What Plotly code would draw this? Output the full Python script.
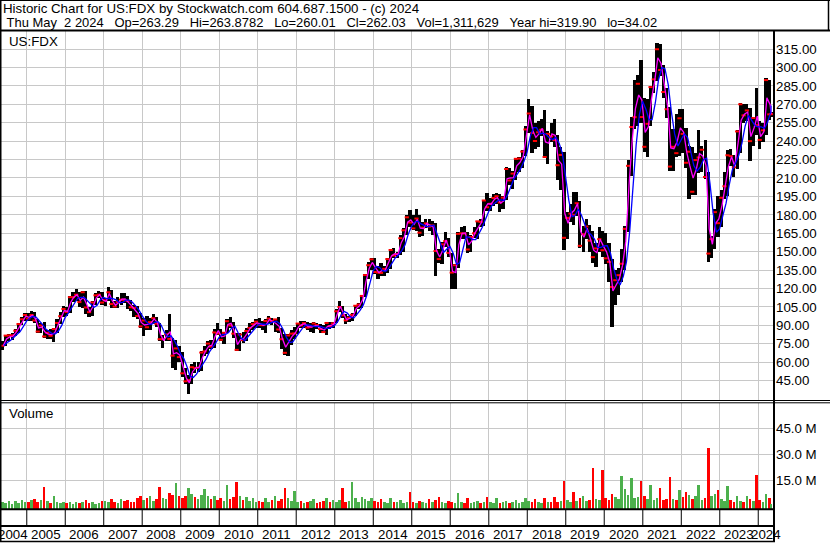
import numpy as np
import pandas as pd
import plotly.graph_objects as go

# ---------------- data (monthly, May 2004 .. May 2024) ----------------
MONTH_START = "2004-05-01"
LAST_DATE = "2024-05-02"

HIGH = [
    77, 82, 83, 84, 87, 92, 97, 100,
    100, 102, 101, 95, 92, 93, 86, 87, 88, 95, 101, 106,
    105, 114, 117, 120, 117, 118, 118, 105, 110, 116, 118, 117,
    112, 121, 119, 110, 113, 116, 116, 114, 111, 107, 106, 100,
    96, 98, 96, 99, 97, 92, 82, 86, 99, 80, 78, 73,
    68, 55, 50, 59, 60, 60, 69, 73, 77, 78, 87, 92,
    87, 85, 95, 97, 93, 84, 84, 85, 88, 92, 93, 95,
    96, 94, 95, 98, 96, 95, 97, 88, 83, 83, 86, 89,
    92, 94, 94, 93, 92, 93, 92, 91, 90, 93, 93, 93,
    103, 110, 106, 99, 98, 100, 107, 108, 115, 132, 142, 145,
    145, 138, 141, 138, 145, 152, 153, 150, 164, 169, 180, 184,
    180, 185, 180, 174, 177, 177, 175, 173, 152, 158, 166, 161,
    149, 140, 166, 170, 171, 166, 164, 170, 175, 177, 192, 198,
    194, 197, 198, 197, 195, 219, 218, 216, 226, 227, 233, 252,
    274.7, 269, 255, 256, 258, 265, 248, 255, 258, 245, 235, 231,
    182, 189, 199, 199, 191, 171, 177, 172, 167, 157, 170, 167,
    165, 157, 144, 135, 137, 152, 171, 225, 260, 290, 294, 305.7,
    275, 274, 285, 296, 319.9, 319, 302, 283, 268, 250, 262, 266,
    266, 251, 236, 235, 230, 249, 236, 241, 215, 163, 185, 195,
    200, 215, 233, 234, 229, 249, 271, 270, 270, 267, 258, 283,
    256, 255, 291, 290, 264,
]
LOW = [
    70, 73, 77, 78, 81, 84, 90, 94,
    94, 94, 92, 84, 84, 80, 79, 79, 76.8, 84, 91, 97,
    98, 100, 109, 110, 105, 104, 99, 97, 98, 107, 112, 107,
    106, 110, 104, 104, 104, 107, 108, 103, 102, 97, 95, 88,
    81, 86, 86, 91, 89, 77, 72, 77, 77, 55, 54, 60,
    48, 42, 34.02, 42, 51, 52, 53, 65, 67, 71, 72, 82,
    77, 75, 84, 88, 80, 69, 69, 76, 77, 84, 86, 88,
    88, 86, 84, 91, 90, 85, 84, 71, 66, 65, 74, 79,
    83, 88, 88, 86, 85, 84, 87, 84, 84, 82, 87, 88,
    92, 101, 96, 91, 93, 94, 98, 103, 104, 113, 128, 135,
    132, 128, 130, 130, 133, 136, 145, 145, 147, 150, 164, 170,
    168, 167, 162, 163, 169, 167, 164, 130, 141, 140, 154, 146,
    120, 120, 137, 160, 160, 149, 150, 161, 160, 170, 171, 183,
    183, 187, 189, 182, 185, 192, 204, 201, 208, 215, 218, 228,
    247, 230, 234, 235, 244, 226, 221, 239, 235, 208, 200, 151,
    160, 174, 172, 179, 153, 150, 160, 150, 141, 137.8, 150, 146,
    140, 125, 88.7, 107, 115, 125, 135, 166, 212, 250, 252, 255,
    231, 227, 252, 279, 289, 293, 275, 259, 216, 216, 227, 228,
    230, 218, 192.8, 196, 196, 214, 215, 209, 141.9, 145, 152, 162,
    170, 193, 195, 220, 211, 217, 230, 255, 256, 224, 236, 245,
    234, 239, 245, 257, 260,
]
CLOSE = [
    73.5, 81.7, 81.9, 82.0, 85.7, 91.1, 95.0, 98.5,
    95.6, 98.5, 94.0, 85.0, 90.0, 81.0, 84.0, 81.5, 87.0, 92.0, 97.5, 103.4,
    101.0, 113.0, 113.0, 115.0, 109.0, 117.0, 104.6, 100.8, 108.7, 114.5, 115.0, 108.6,
    110.4, 117.0, 107.4, 105.4, 109.0, 111.0, 110.7, 110.0, 104.8, 104.3, 97.6, 89.2,
    94.0, 88.5, 92.7, 95.9, 91.4, 78.8, 78.8, 82.7, 79.0, 65.4, 71.3, 64.2,
    51.0, 44.5, 45.5, 56.0, 55.4, 55.6, 67.9, 68.9, 75.2, 72.7, 84.3, 83.4,
    78.3, 84.0, 93.4, 90.0, 83.3, 70.1, 82.6, 78.0, 85.5, 88.0, 91.1, 93.0,
    90.3, 90.2, 93.6, 95.6, 93.6, 94.9, 86.7, 78.8, 67.7, 81.8, 83.3, 83.5,
    91.5, 90.0, 91.9, 88.2, 89.0, 91.6, 90.3, 87.1, 84.6, 92.0, 89.5, 91.7,
    101.5, 105.0, 98.2, 94.1, 96.3, 98.6, 106.0, 107.0, 114.0, 131.0, 139.0, 143.8,
    133.5, 133.0, 132.7, 136.0, 144.0, 151.4, 146.9, 148.0, 161.0, 167.4, 178.0, 173.7,
    169.0, 177.0, 165.5, 169.6, 173.0, 170.4, 171.4, 150.6, 144.0, 156.0, 158.6, 149.0,
    133.0, 139.0, 164.5, 165.0, 164.8, 151.8, 162.0, 165.0, 174.7, 174.3, 191.7, 186.2,
    189.0, 193.7, 195.2, 190.0, 194.0, 217.3, 208.0, 213.6, 225.6, 225.8, 231.5, 249.5,
    262.5, 246.6, 240.1, 247.2, 249.3, 227.1, 245.9, 243.9, 240.8, 220.4, 228.8, 161.3,
    177.5, 181.0, 180.0, 189.5, 154.8, 164.2, 170.5, 159.0, 145.6, 152.7, 160.2, 151.2,
    144.6, 141.7, 121.3, 126.8, 130.9, 140.2, 168.6, 219.9, 251.5, 259.5, 286.7, 259.6,
    235.4, 254.1, 284.0, 290.3, 314.8, 297.9, 280.0, 266.0, 219.3, 235.4, 230.2, 258.6,
    245.9, 222.4, 231.4, 198.8, 224.6, 226.7, 233.0, 210.8, 148.5, 160.2, 182.2, 173.2,
    193.9, 203.3, 228.5, 227.8, 218.7, 247.9, 270.0, 261.0, 265.0, 240.0, 258.8, 253.0,
    241.0, 248.8, 289.7, 261.8, 262.0,
]
VOLUME_M = [
    2.0, 1.5, 2.6, 1.2, 2.8, 1.8, 3.5, 2.2,
    2.0, 3.2, 4.0, 2.5, 3.5, 11.0, 2.8, 1.5, 5.6, 2.0, 1.8, 2.5,
    1.5, 2.0, 1.2, 2.2, 1.8, 2.0, 3.5, 1.5, 2.5, 1.0, 1.6, 2.6,
    3.0, 2.0, 4.0, 2.2, 1.8, 4.2, 3.0, 3.6, 2.4, 2.0, 4.5, 5.5,
    3.5, 4.5, 6.0, 2.8, 4.0, 11.0, 4.5, 3.8, 7.5, 6.5, 13.5, 5.5,
    4.5, 6.0, 10.6, 7.0, 5.0, 4.0, 6.5, 9.7, 5.5, 4.0, 6.0, 3.5,
    4.5, 3.0, 12.1, 4.0, 5.0, 14.1, 6.0, 3.5, 5.0, 3.0, 4.5, 2.5,
    3.0, 2.5, 4.5, 2.0, 3.5, 5.5, 3.0, 4.0, 10.6, 4.5, 3.0, 8.6,
    2.5, 3.0, 1.8, 2.2, 2.8, 4.0, 1.5, 2.0, 3.0, 4.5, 2.0, 3.5,
    2.5, 3.5, 10.6, 2.0, 3.0, 14.0, 4.5, 2.5, 5.0, 4.0, 3.0, 4.5,
    3.0, 2.5, 4.0, 2.0, 1.5, 4.5, 2.0, 2.5, 3.5, 1.8, 2.2, 8.0,
    2.5, 1.5, 3.0, 2.0, 1.8, 4.0, 2.5, 3.5, 4.9, 2.0, 1.5, 3.0,
    2.5, 1.8, 7.2, 2.0, 1.5, 4.3, 1.8, 2.0, 3.0, 1.5, 2.5, 4.9,
    2.0, 1.5, 4.3, 1.8, 2.2, 3.0, 1.5, 2.0, 3.5, 1.8, 2.2, 4.3,
    3.0, 2.5, 4.0, 2.0, 1.8, 4.5, 2.2, 2.0, 5.3, 2.5, 3.0, 14.4,
    3.5, 2.5, 7.8, 3.0, 4.5, 6.0, 3.0, 3.5, 21.8, 4.0, 3.5, 20.8,
    4.5, 3.5, 7.0, 5.0, 4.0, 17.3, 9.7, 6.5, 16.3, 4.5, 5.0, 14.4,
    5.5, 4.0, 12.1, 3.5, 4.5, 10.5, 3.5, 4.0, 16.5, 4.0, 3.5, 9.2,
    5.0, 8.2, 6.5, 4.0, 5.5, 12.1, 3.5, 4.5, 33.7, 6.0, 6.9, 9.0,
    4.0, 3.0, 11.5, 3.5, 2.5, 5.7, 3.0, 2.5, 5.7, 4.0, 3.0, 17.9,
    3.5, 2.5, 6.9, 4.5, 1.3,
]

YEARS = list(range(2004, 2025))
PRICE_TICKS = list(range(30, 331, 15))
PRICE_TICK_TEXT = [f"{v:.2f}" if 45 <= v <= 315 else "" for v in PRICE_TICKS]
VOL_TICKS = [15, 30, 45]
VOL_TICK_TEXT = ["15.0 M", "30.0 M", "45.0 M"]

TITLE_1 = "Historic Chart for US:FDX by Stockwatch.com 604.687.1500 - (c) 2024"
TITLE_2 = " Thu May  2 2024   Op=263.29   Hi=263.8782   Lo=260.01   Cl=262.03   Vol=1,311,629   Year hi=319.90   lo=34.02"
SYMBOL = "US:FDX"
VOL_LABEL = "Volume"

# ---------------- geometry / style ----------------
W, H = 830, 543
ML, MR, MT, MB = 0, 57, 31, 34
PW, PH = W - ML - MR, H - MT - MB
X_RANGE = ["2004-04-22", "2024-05-20"]
PRICE_RANGE = [29.29, 329.65]
VOL_MIN, VOL_MAX = -1.83, 59.68
FONT = "Liberation Sans, Arial, sans-serif"
FS = 13.3
GRID = "#c8c8c8"


def py(y):  # pixel y (from top) -> paper
    return (H - MB - y) / PH


def px(x):  # pixel x -> paper
    return (x - ML) / PW


n = len(CLOSE)
month0 = pd.date_range(MONTH_START, periods=n, freq="MS")
last = pd.Timestamp(LAST_DATE)
bar_x = [min(d + pd.Timedelta(days=14), last) for d in month0]
mag_x = [min(d + pd.Timedelta(days=22), last) for d in month0]
blue_x = [min(d + pd.Timedelta(days=29), last) for d in month0]

hi = np.array(HIGH, float)
lo = np.array(LOW, float)
cl = np.array(CLOSE, float)
tp = pd.Series((hi + lo + cl) / 3.0)
ma_fast = tp.values
ma_slow = tp.rolling(3, min_periods=1).mean().values

prev = np.concatenate([[cl[0]], cl[:-1]])
vol_colors = ["#4cb04c" if c >= p else "#ff0000" for c, p in zip(cl, prev)]

DAY_MS = 86400000

fig = go.Figure()
fig.add_trace(go.Bar(
    x=bar_x, y=hi - lo, base=lo, width=30 * DAY_MS,
    marker=dict(color="black", line=dict(width=0)),
    xaxis="x", yaxis="y", hoverinfo="skip"))
fig.add_trace(go.Scatter(
    x=bar_x, y=cl, mode="markers",
    marker=dict(symbol="line-ew", size=3, line=dict(color="#ff0000", width=2)),
    xaxis="x", yaxis="y", hoverinfo="skip"))
fig.add_trace(go.Scatter(
    x=mag_x, y=ma_fast, mode="lines", line=dict(color="#ff00ff", width=1.3),
    xaxis="x", yaxis="y", hoverinfo="skip"))
fig.add_trace(go.Scatter(
    x=blue_x, y=ma_slow, mode="lines", line=dict(color="#0000ff", width=1.3),
    xaxis="x", yaxis="y", hoverinfo="skip"))
fig.add_trace(go.Bar(
    x=bar_x, y=np.array(VOLUME_M) - VOL_MIN, base=VOL_MIN, width=24 * DAY_MS,
    marker=dict(color=vol_colors, line=dict(width=0)),
    xaxis="x", yaxis="y2", hoverinfo="skip"))

year_starts = [f"{y}-01-01" for y in YEARS[1:]]

shapes = []


def hline(y, x0, x1, w=1.0):
    shapes.append(dict(type="line", xref="paper", yref="paper",
                       x0=px(x0), x1=px(x1), y0=py(y), y1=py(y),
                       line=dict(color="black", width=w), layer="above"))


def vline(x, y0, y1, w=1.0):
    shapes.append(dict(type="line", xref="paper", yref="paper",
                       x0=px(x), x1=px(x), y0=py(y0), y1=py(y1),
                       line=dict(color="black", width=w), layer="above"))


hline(0.5, 0, W, 1)
hline(30.5, 0, W, 2)
hline(400.5, 0, W, 1)
hline(402.8, 0, W, 1)
hline(509.3, 0, 775, 2)
hline(526.0, 0, 775, 2)
hline(541.5, 0, 775, 1.5)
vline(0.75, 0, 542, 1.5)
vline(828.5, 0, 31, 1.5)
vline(774.0, 30, 542, 2)
for ys in year_starts:
    shapes.append(dict(type="line", xref="x", yref="paper", x0=ys, x1=ys,
                       y0=py(510), y1=py(525.5),
                       line=dict(color="black", width=1), layer="above"))

annotations = []


def text(s, x, y, xanchor="left", xref="paper", size=FS):
    annotations.append(dict(text=s.replace(" ", "\u00a0"), x=x, y=py(y),
                            xref=xref, yref="paper", xanchor=xanchor,
                            yanchor="middle", showarrow=False,
                            font=dict(family=FONT, size=size, color="black")))


text(TITLE_1, px(0.7), 8.6)
text(TITLE_2, px(0.7), 23.0, size=12.95)
text(SYMBOL, px(7), 41)
text(VOL_LABEL, px(7), 413)

x0r, x1r = pd.Timestamp(X_RANGE[0]), pd.Timestamp(X_RANGE[1])
for y in YEARS:
    a = max(pd.Timestamp(f"{y}-01-01"), x0r)
    b = min(pd.Timestamp(f"{y + 1}-01-01"), x1r)
    c = a + (b - a) / 2
    text(str(y), c.strftime("%Y-%m-%d %H:%M"), 534.3, xanchor="center", xref="x")

fig.update_layout(
    width=W, height=H,
    margin=dict(l=ML, r=MR, t=MT, b=MB, pad=0),
    paper_bgcolor="white", plot_bgcolor="white",
    showlegend=False, barmode="overlay", bargap=0,
    font=dict(family=FONT, size=FS, color="black"),
    xaxis=dict(type="date", range=X_RANGE, domain=[0, 1], anchor="y2",
               tickvals=year_starts, showticklabels=False, ticks="",
               showgrid=True, gridcolor=GRID, gridwidth=1,
               zeroline=False, showline=False, fixedrange=True),
    yaxis=dict(domain=[py(400), 1], range=PRICE_RANGE, side="right",
               anchor="x", tickvals=PRICE_TICKS, ticktext=PRICE_TICK_TEXT,
               ticks="", ticklabelstandoff=2,
               showgrid=True, gridcolor=GRID, gridwidth=1,
               zeroline=False, showline=False,
               tickfont=dict(family=FONT, size=FS, color="black")),
    yaxis2=dict(domain=[0, py(403)], range=[VOL_MIN, VOL_MAX], side="right",
                anchor="x", tickvals=VOL_TICKS, ticktext=VOL_TICK_TEXT,
                ticks="", ticklabelstandoff=2,
                showgrid=True, gridcolor=GRID, gridwidth=1,
                zeroline=False, showline=False,
                tickfont=dict(family=FONT, size=FS, color="black")),
    shapes=shapes,
    annotations=annotations,
)

fig.write_html(
    "out.html",
    config={"displayModeBar": False},
    post_script="document.body.style.margin='0';document.body.style.padding='0';",
)
